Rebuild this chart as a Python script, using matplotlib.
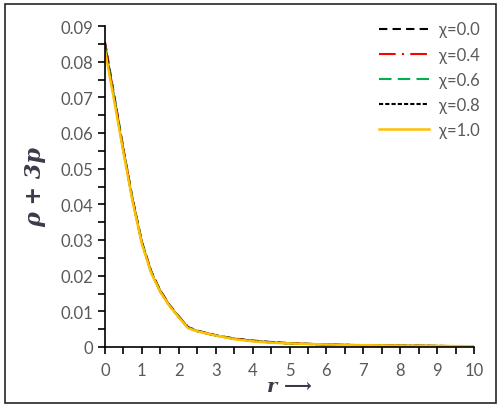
"""
Energy condition rho + 3p against radial coordinate r for several chi values.
"""
import numpy as np
import matplotlib.pyplot as plt
from matplotlib.patches import Rectangle
from matplotlib.ticker import MultipleLocator, FuncFormatter

r = [0, 0.25, 0.5, 0.75, 1, 1.25, 1.5, 1.75, 2, 2.25, 2.5,
     3, 3.5, 4, 4.5, 5, 6, 7, 8, 9, 10]

chi_00 = [0.0855, 0.0705, 0.0555, 0.0415, 0.0295, 0.0213, 0.0158, 0.0118,
          0.0086, 0.0056, 0.0046, 0.0033, 0.0024, 0.0018, 0.0014, 0.0011,
          0.0007, 0.0005, 0.0004, 0.0003, 0.0002]
chi_04 = [0.0850, 0.0702, 0.0553, 0.0413, 0.0293, 0.0212, 0.0157, 0.0117,
          0.0085, 0.0055, 0.0045, 0.0033, 0.0023, 0.0017, 0.0013, 0.0010,
          0.0007, 0.0005, 0.0004, 0.0003, 0.0002]
chi_06 = [0.0845, 0.0699, 0.0551, 0.0411, 0.0292, 0.0211, 0.0156, 0.0116,
          0.0084, 0.0055, 0.0045, 0.0032, 0.0023, 0.0017, 0.0013, 0.0010,
          0.0007, 0.0005, 0.0004, 0.0003, 0.0002]
chi_08 = [0.0840, 0.0696, 0.0549, 0.0410, 0.0291, 0.0210, 0.0155, 0.0116,
          0.0084, 0.0054, 0.0044, 0.0032, 0.0023, 0.0017, 0.0013, 0.0010,
          0.0007, 0.0005, 0.0004, 0.0003, 0.0002]
chi_10 = [0.0832, 0.0690, 0.0545, 0.0407, 0.0289, 0.0208, 0.0154, 0.0115,
          0.0083, 0.0053, 0.0044, 0.0032, 0.0022, 0.0016, 0.0012, 0.0010,
          0.0007, 0.0005, 0.0004, 0.0003, 0.0002]

labels = ["χ=0.0", "χ=0.4", "χ=0.6", "χ=0.8", "χ=1.0"]
x_ticks = [0, 1, 2, 3, 4, 5, 6, 7, 8, 9, 10]
y_ticks = [0, 0.01, 0.02, 0.03, 0.04, 0.05, 0.06, 0.07, 0.08, 0.09]


def y_fmt(v, pos):
    if abs(v) < 1e-9:
        return "0"
    return "%.2f" % v


fig = plt.figure(figsize=(5.02, 4.14), dpi=100)
fig.patches.append(Rectangle((5 / 502, 1 - 404 / 414), 491 / 502, 399 / 414,
                             transform=fig.transFigure, fill=False,
                             edgecolor="#262626", linewidth=1.2))

ax = fig.add_axes([105 / 502, 1 - 348 / 414, 369 / 502, 321 / 414])

styles = [
    dict(color="black", linestyle=(0, (4, 2.5)), linewidth=1.5),
    dict(color="#FF0000", linestyle=(0, (8, 3, 1, 3)), linewidth=1.5),
    dict(color="#00B050", linestyle=(0, (6, 3)), linewidth=1.5),
    dict(color="black", linestyle=(0, (2, 1)), linewidth=1.5),
    dict(color="#FFC000", linestyle="-", linewidth=1.8),
]
for ys, lab, st in zip([chi_00, chi_04, chi_06, chi_08, chi_10], labels, styles):
    ax.plot(r, ys, label=lab, **st)

ax.set_xlim(0, 10)
ax.set_ylim(0, 0.09)
ax.set_xticks(x_ticks)
ax.set_yticks(y_ticks)
ax.xaxis.set_minor_locator(MultipleLocator(0.5))
ax.yaxis.set_minor_locator(MultipleLocator(0.005))
ax.yaxis.set_major_formatter(FuncFormatter(y_fmt))

for side in ["top", "right"]:
    ax.spines[side].set_visible(False)
for side in ["left", "bottom"]:
    ax.spines[side].set_linewidth(1.2)

ax.tick_params(which="both", direction="out", length=5, width=1.2,
               color="black", labelcolor="#595959", labelsize=12)
ax.tick_params(axis="x", pad=6)
for lab in ax.get_xticklabels() + ax.get_yticklabels():
    lab.set_family("Lato")

ax.set_xlabel("r ⟶", fontsize=14, fontweight="bold", fontstyle="italic",
              family="DejaVu Serif", color="#3a3a4a", labelpad=-1)
ax.set_ylabel("ρ + 3p", fontsize=16, fontweight="bold", fontstyle="italic",
              family="DejaVu Serif", color="#3a3a4a", labelpad=10)

leg = ax.legend(loc="upper right", frameon=False, handlelength=3.0,
                handletextpad=0.6, labelspacing=0.55, borderaxespad=0.0,
                bbox_to_anchor=(1.035, 1.035), prop={"family": "Lato", "size": 12})
for t in leg.get_texts():
    t.set_color("#595959")

fig.savefig("out.png", dpi=100)
